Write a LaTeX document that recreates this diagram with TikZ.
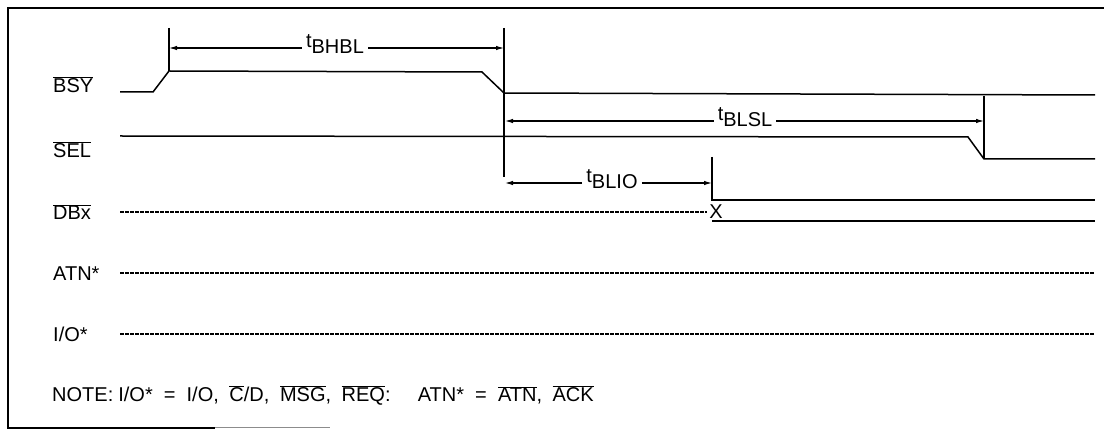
\documentclass[tikz,border=0pt]{standalone}
\usepackage{fontspec}
\setmainfont{Liberation Sans}
\usetikzlibrary{arrows.meta}
\newcommand{\ovl}[1]{$\overline{\mbox{#1}}$}
\newcommand{\tsub}[1]{t\raisebox{-6pt}{#1}}
\newcommand{\gp}{\hspace{5pt}}
\begin{document}
\begin{tikzpicture}[x=1pt,y=-1pt,
  frameline/.style={line width=1.8pt},
  sig/.style={line width=1.5pt},
  dsig/.style={line width=1.3pt, dash pattern=on 3.5pt off 1.5pt},
  tick/.style={line width=1.3pt},
  lbl/.style={font=\fontsize{20}{24}\selectfont, inner sep=0pt, anchor=base west},
  tlab/.style={font=\fontsize{20}{24}\selectfont, inner sep=4pt, anchor=base},
  dim/.style={line width=1.1pt, -{Latex[length=8pt,width=4.5pt]}}
]
\useasboundingbox (0,0) rectangle (1104,430);

% frame
\draw[frameline] (1104,8) -- (8,8) -- (8,428) -- (215,428);
\draw[line width=1pt, black!45] (215,428) -- (330,428);

% signal labels
\node[lbl] (bsy) at (53,93) {\ovl{BSY}};
\node[lbl] (sel) at (53,158) {\ovl{SEL}};
\node[lbl] (dbx) at (53,220) {\ovl{DBx}};
\node[lbl] (atn) at (53,281) {ATN*};
\node[lbl] (io)  at (53,342) {I/O*};
\node[lbl] (note) at (52,402) {NOTE:\gp I/O*\ \ =\ \ I/O,\gp\ \ovl{C}/D,\gp\ \ovl{MSG},\gp\ \ovl{REQ}:\gp\ \ \ \ ATN*\ \ =\ \ \ovl{ATN},\gp\ \ovl{ACK}};

% BSY
\draw[sig] (120,92) -- (153,92) -- (169,71) -- (482,72) -- (504,93) -- (1095,95);
% SEL
\draw[sig] (120,136) -- (968,137) -- (984,159) -- (1095,159);
% DBx
\draw[dsig] (120,212) -- (707,212);
\node[font=\fontsize{20}{24}\selectfont, inner sep=0pt] (x) at (716,212) {X};
\draw[sig] (712,157) -- (712,200) -- (1095,200);
\draw[sig] (712,221) -- (1095,221);
% ATN*, I/O*
\draw[dsig] (120,273) -- (1095,273);
\draw[dsig] (120,334) -- (1095,334);

% reference ticks
\draw[tick] (169,28) -- (169,71);
\draw[tick] (504,28) -- (504,177);
\draw[tick] (984,96) -- (984,159);

% timing arrows
\coordinate (a1) at (169,48);
\coordinate (a2) at (504,48);
\node[tlab] (tbhbl) at (335,48) {\tsub{BHBL}};
\draw[dim] (tbhbl.west |- a1) -- (a1);
\draw[dim] (tbhbl.east |- a2) -- (a2);

\coordinate (b1) at (505,121);
\coordinate (b2) at (984,121);
\node[tlab] (tblsl) at (745,121) {\tsub{BLSL}};
\draw[dim] (tblsl.west |- b1) -- (b1);
\draw[dim] (tblsl.east |- b2) -- (b2);

\coordinate (c1) at (505,183);
\coordinate (c2) at (712,183);
\node[tlab] (tblio) at (612,183) {\tsub{BLIO}};
\draw[dim] (tblio.west |- c1) -- (c1);
\draw[dim] (tblio.east |- c2) -- (c2);
\end{tikzpicture}
\end{document}
